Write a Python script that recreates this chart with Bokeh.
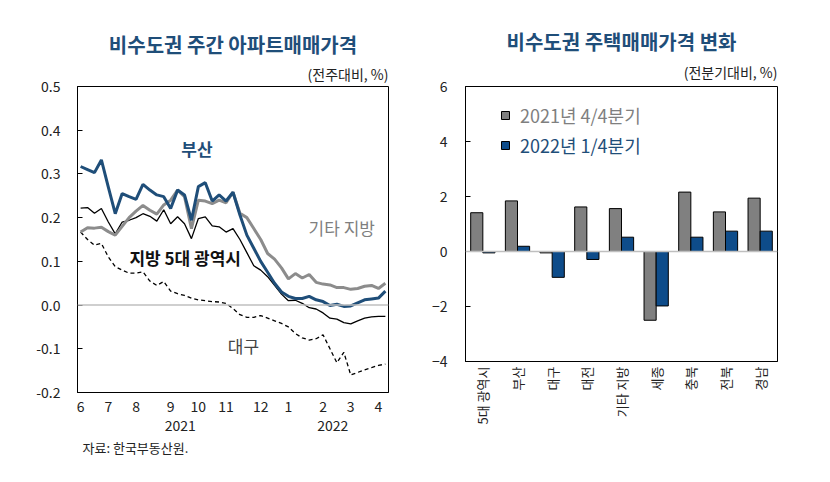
from bokeh.plotting import figure
from bokeh.models import (FixedTicker, Label, Span, Legend, LegendItem, ColumnDataSource,
                          FactorRange, Range1d, NumeralTickFormatter, Title, LinearAxis)
from bokeh.transform import dodge
from bokeh.layouts import row
from bokeh.embed import file_html
from bokeh.resources import INLINE
import math

FONT = "Noto Sans CJK KR"
NAVY = "#1F4E79"

# ---------------- left chart data (weekly, Jun 2021 - Apr 2022) ----------------
weeks = list(range(45))
busan = [0.317, 0.310, 0.303, 0.332, 0.270, 0.209, 0.255, 0.248, 0.242, 0.276,
         0.263, 0.252, 0.248, 0.221, 0.263, 0.252, 0.194, 0.271, 0.280, 0.238,
         0.252, 0.238, 0.258, 0.206, 0.160, 0.130, 0.100, 0.075, 0.050, 0.030,
         0.020, 0.015, 0.015, 0.020, 0.012, 0.008, -0.001, 0.002, -0.003, -0.002,
         0.005, 0.012, 0.014, 0.016, 0.032]
others = [0.167, 0.177, 0.176, 0.178, 0.168, 0.160, 0.180, 0.200, 0.215, 0.228,
          0.217, 0.208, 0.229, 0.240, 0.263, 0.248, 0.175, 0.240, 0.238, 0.232,
          0.240, 0.234, 0.258, 0.210, 0.200, 0.175, 0.150, 0.118, 0.105, 0.085,
          0.060, 0.072, 0.062, 0.070, 0.052, 0.048, 0.046, 0.040, 0.040, 0.036,
          0.038, 0.043, 0.045, 0.038, 0.050]
metro5 = [0.222, 0.223, 0.210, 0.221, 0.190, 0.163, 0.190, 0.194, 0.200, 0.209,
          0.203, 0.192, 0.218, 0.186, 0.202, 0.186, 0.152, 0.198, 0.202, 0.181,
          0.179, 0.167, 0.175, 0.150, 0.120, 0.090, 0.080, 0.065, 0.045, 0.025,
          0.010, 0.011, 0.004, -0.006, -0.009, -0.018, -0.030, -0.032, -0.040, -0.043,
          -0.036, -0.030, -0.027, -0.026, -0.026]
daegu = [0.167, 0.150, 0.137, 0.141, 0.110, 0.088, 0.080, 0.073, 0.073, 0.076,
         0.055, 0.045, 0.054, 0.032, 0.026, 0.022, 0.016, 0.012, 0.010, 0.008,
         0.007, 0.004, -0.008, -0.022, -0.028, -0.028, -0.024, -0.030, -0.036, -0.042,
         -0.050, -0.065, -0.075, -0.080, -0.077, -0.068, -0.100, -0.132, -0.108, -0.160,
         -0.154, -0.148, -0.143, -0.138, -0.135]
month_ticks = [0, 4, 8, 13, 17, 21, 26, 30, 35, 39, 43]
month_labels = ["6", "7", "8", "9", "10", "11", "12", "1", "2", "3", "4"]
year_pos = [14.4, 36.4]
year_labels = ["2021", "2022"]
y_ticks_left = [-0.2, -0.1, 0.0, 0.1, 0.2, 0.3, 0.4, 0.5]

# ---------------- right chart data ----------------
regions = ["5대 광역시", "부산", "대구", "대전", "기타 지방", "세종", "충북", "전북", "경남"]
q4_2021 = [1.41, 1.84, -0.05, 1.62, 1.56, -2.50, 2.16, 1.44, 1.94]
q1_2022 = [-0.05, 0.19, -0.94, -0.29, 0.52, -1.98, 0.52, 0.74, 0.74]
y_ticks_right = [-4, -2, 0, 2, 4, 6]


def style_axes(p):
    for ax in (p.xaxis[0], p.yaxis[0]):
        ax.axis_line_color = "black"
        ax.major_label_text_font = FONT
        ax.major_label_text_color = "#222222"
        ax.minor_tick_line_color = None
    p.xgrid.visible = False
    p.ygrid.visible = False
    p.outline_line_color = "black"
    p.outline_line_width = 1
    p.background_fill_color = "white"
    p.border_fill_color = "white"


# ================= LEFT =================
p1 = figure(frame_width=311, frame_height=306, x_range=Range1d(-0.45, 44.45), y_range=Range1d(-0.2, 0.5),
            output_backend="svg", toolbar_location=None, title=None,
            min_border_left=77, min_border_right=35, min_border_top=86, min_border_bottom=10)
style_axes(p1)
p1.yaxis.ticker = FixedTicker(ticks=y_ticks_left)
p1.yaxis.formatter = NumeralTickFormatter(format="0.0")
p1.yaxis.major_tick_in = 5
p1.yaxis.major_tick_out = 0
p1.yaxis.major_label_standoff = 17
p1.yaxis.major_label_text_font_size = "14px"
p1.xaxis.ticker = FixedTicker(ticks=month_ticks)
p1.xaxis.major_label_overrides = {t: l for t, l in zip(month_ticks, month_labels)}
p1.xaxis.major_tick_in = 0
p1.xaxis.major_tick_out = 0
p1.xaxis.major_label_standoff = 8
p1.xaxis.major_label_text_font_size = "14px"

yr_axis = LinearAxis(ticker=FixedTicker(ticks=year_pos),
                     major_label_overrides={t: l for t, l in zip(year_pos, year_labels)},
                     axis_line_color=None, major_tick_line_color=None, minor_tick_line_color=None,
                     major_label_standoff=-1, major_label_text_font=FONT,
                     major_label_text_font_size="14px", major_label_text_color="#222222")
p1.add_layout(yr_axis, "below")
p1.add_layout(Title(text="자료: 한국부동산원.", align="left", offset=5, standoff=5, text_font=FONT,
                    text_font_size="13px", text_font_style="normal", text_color="#222222"), "below")
p1.add_layout(Title(text="(전주대비, %)", align="right", standoff=6, text_font=FONT, text_font_size="14px",
                    text_font_style="normal", text_color="#222222"), "above")
p1.add_layout(Title(text="비수도권 주간 아파트매매가격", align="center", standoff=0, text_font=FONT,
                    text_font_size="20px", text_font_style="bold", text_color=NAVY), "above")

p1.add_layout(Span(location=0, dimension="width", line_color="#BFBFBF", line_width=1.5))

src = ColumnDataSource(dict(w=weeks, busan=busan, others=others, metro5=metro5, daegu=daegu))
p1.line("w", "daegu", source=src, line_color="black", line_width=1.3, line_dash="4 3")
p1.line("w", "metro5", source=src, line_color="black", line_width=1.3)
p1.line("w", "others", source=src, line_color="#8C8C8C", line_width=3)
p1.line("w", "busan", source=src, line_color=NAVY, line_width=3)

for txt, x, y, col, bold in [("부산", 16.8, 0.358, NAVY, True),
                             ("기타 지방", 37.7, 0.177, "#7F7F7F", False),
                             ("지방 5대 광역시", 15.1, 0.108, "#111111", True),
                             ("대구", 23.5, -0.092, "#444444", False)]:
    p1.add_layout(Label(x=x, y=y, text=txt, text_align="center", text_baseline="middle",
                        text_font=FONT, text_font_size="17px", text_color=col,
                        text_font_style="bold" if bold else "normal"))

# ================= RIGHT =================
p2 = figure(frame_width=312, frame_height=275, x_range=FactorRange(*regions), y_range=Range1d(-4, 6),
            output_backend="svg", toolbar_location=None, title=None,
            min_border_left=42, min_border_right=45, min_border_top=86, min_border_bottom=10)
style_axes(p2)
p2.yaxis.ticker = FixedTicker(ticks=y_ticks_right)
p2.yaxis.major_tick_in = 5
p2.yaxis.major_tick_out = 0
p2.yaxis.major_label_standoff = 18
p2.yaxis.major_label_text_font_size = "14px"
p2.xaxis.major_tick_in = 0
p2.xaxis.major_tick_out = 0
p2.xaxis.major_label_orientation = math.pi / 2
p2.xaxis.major_label_standoff = 5
p2.xaxis.major_label_text_font_size = "13px"
p2.add_layout(Title(text="(전분기대비, %)", align="right", standoff=9, text_font=FONT,
                    text_font_size="14px", text_font_style="normal", text_color="#222222"), "above")
p2.add_layout(Title(text="비수도권 주택매매가격 변화", align="center", standoff=0, text_font=FONT,
                    text_font_size="20px", text_font_style="bold", text_color=NAVY), "above")

bsrc = ColumnDataSource(dict(region=regions, q4=q4_2021, q1=q1_2022))
r1 = p2.vbar(x=dodge("region", -0.175, range=p2.x_range), top="q4", width=0.35, source=bsrc,
             fill_color="#808080", line_color="black", line_width=1)
r2 = p2.vbar(x=dodge("region", 0.175, range=p2.x_range), top="q1", width=0.35, source=bsrc,
             fill_color="#0E4C8A", line_color="black", line_width=1)
p2.add_layout(Span(location=0, dimension="width", line_color="#BFBFBF", line_width=1.5))

for item_label, rend, col, loc in [("2021년 4/4분기", r1, "#7F7F7F", (35, 233)),
                                   ("2022년 1/4분기", r2, NAVY, (35, 203))]:
    lg = Legend(items=[LegendItem(label=item_label, renderers=[rend])], location=loc,
                border_line_color=None, background_fill_alpha=0, padding=0, margin=0,
                glyph_width=10, glyph_height=10, label_standoff=10, label_height=20,
                label_text_font=FONT, label_text_font_size="18px", label_text_color=col)
    p2.add_layout(lg)

layout = row(p1, p2)
open("out.html", "w").write(file_html(layout, INLINE))
